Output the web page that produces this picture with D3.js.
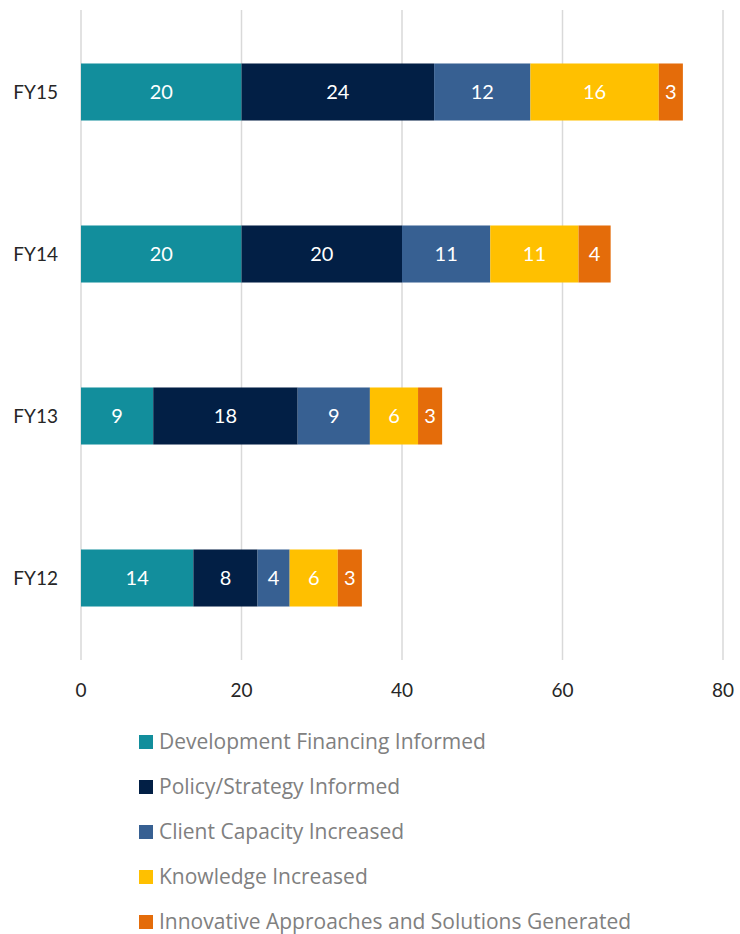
<!DOCTYPE html>
<html>
<head>
<meta charset="utf-8">
<script src="https://cdn.jsdelivr.net/npm/d3@7"></script>
<style>
  body { margin: 0; background: #fff; }
  svg text { font-family: Lato, "Open Sans", sans-serif; }
  svg .legend text { font-family: "Open Sans", sans-serif; }
</style>
</head>
<body>
<div id="chart"></div>
<script>
// categories top to bottom
var years = ["FY15", "FY14", "FY13", "FY12"];

var seriesNames = [
  "Development Financing Informed",
  "Policy/Strategy Informed",
  "Client Capacity Increased",
  "Knowledge Increased",
  "Innovative Approaches and Solutions Generated"
];

var seriesColors = ["#128e9c", "#021f45", "#376092", "#ffc000", "#e46c0a"];

// values per year, same order as seriesNames
var financing = [20, 20, 9, 14];
var policy    = [24, 20, 18, 8];
var capacity  = [12, 11, 9, 4];
var knowledge = [16, 11, 6, 6];
var innovative = [3, 4, 3, 3];

var xTicks = [0, 20, 40, 60, 80];

var width = 740, height = 934;

var rows = years.map(function (y, i) {
  return {
    year: y,
    s0: financing[i], s1: policy[i], s2: capacity[i], s3: knowledge[i], s4: innovative[i]
  };
});
var keys = ["s0", "s1", "s2", "s3", "s4"];
var stacked = d3.stack().keys(keys)(rows);

var x = d3.scaleLinear().domain([0, 80]).range([81, 723]);
var y = d3.scaleBand().domain(years).range([11, 659])
  .paddingInner(0.648).paddingOuter(0.324);

var svg = d3.select("#chart").append("svg")
  .attr("width", width)
  .attr("height", height);

// gridlines
svg.append("g")
  .selectAll("line")
  .data(xTicks)
  .enter()
  .append("line")
  .attr("x1", d => x(d)).attr("x2", d => x(d))
  .attr("y1", 10).attr("y2", 660)
  .attr("stroke", "#d9d9d9")
  .attr("stroke-width", 1.5);

// bars
var layer = svg.append("g")
  .selectAll("g")
  .data(stacked)
  .enter()
  .append("g")
  .attr("fill", (d, i) => seriesColors[i]);

layer.selectAll("rect")
  .data(d => d)
  .enter()
  .append("rect")
  .attr("x", d => x(d[0]))
  .attr("y", d => y(d.data.year))
  .attr("width", d => x(d[1]) - x(d[0]))
  .attr("height", y.bandwidth());

layer.selectAll("text")
  .data(d => d)
  .enter()
  .append("text")
  .attr("x", d => (x(d[0]) + x(d[1])) / 2)
  .attr("y", d => y(d.data.year) + y.bandwidth() / 2)
  .attr("dy", "0.35em")
  .attr("text-anchor", "middle")
  .attr("fill", "#fff")
  .attr("font-size", 20)
  .text(d => d[1] - d[0]);

// category labels
svg.append("g")
  .selectAll("text")
  .data(years)
  .enter()
  .append("text")
  .attr("x", 58)
  .attr("y", d => y(d) + y.bandwidth() / 2)
  .attr("dy", "0.35em")
  .attr("text-anchor", "end")
  .attr("font-size", 19)
  .attr("fill", "#262626")
  .text(d => d);

// x axis labels
svg.append("g")
  .selectAll("text")
  .data(xTicks)
  .enter()
  .append("text")
  .attr("x", d => x(d))
  .attr("y", 690)
  .attr("dy", "0.35em")
  .attr("text-anchor", "middle")
  .attr("font-size", 19)
  .attr("fill", "#262626")
  .text(d => d);

// legend
var legend = svg.append("g")
  .attr("class", "legend")
  .selectAll("g")
  .data(seriesNames)
  .enter()
  .append("g")
  .attr("transform", (d, i) => "translate(139," + (742 + i * 45) + ")");

legend.append("rect")
  .attr("x", 0).attr("y", -7)
  .attr("width", 14).attr("height", 14)
  .attr("fill", (d, i) => seriesColors[i]);

legend.append("text")
  .attr("x", 20)
  .attr("dy", "0.33em")
  .attr("font-size", 21)
  .attr("fill", "#808080")
  .text(d => d);
</script>
</body>
</html>
